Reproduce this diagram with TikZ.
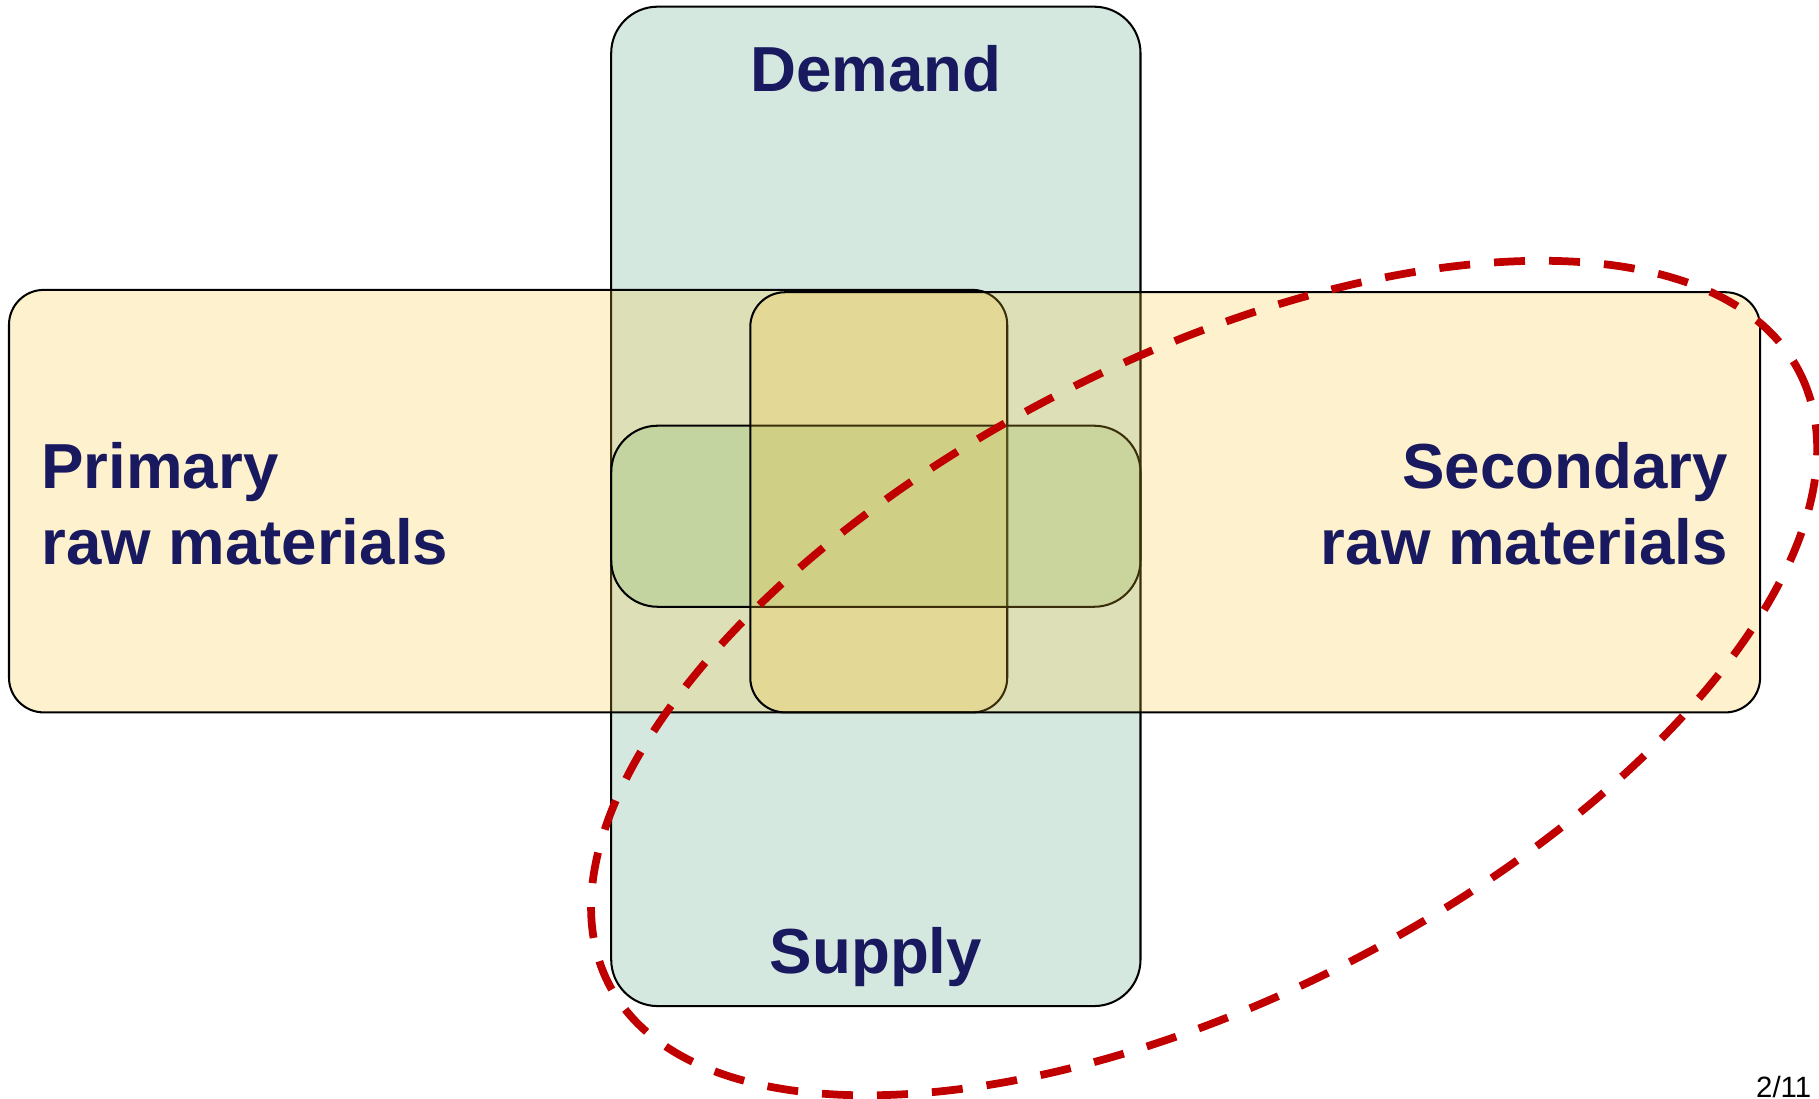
\documentclass[tikz,border=0pt]{standalone}
\usepackage{fontspec}
\setmainfont{Liberation Sans}
\definecolor{tealfill}{RGB}{213,232,224}
\definecolor{yelfill}{RGB}{247,196,49}
\definecolor{grnfill}{RGB}{120,180,100}
\definecolor{navy}{RGB}{25,25,95}
\definecolor{redline}{RGB}{192,0,0}
\tikzset{
  boxbase/.style={draw=black, line width=0.5pt, inner sep=0pt, outer sep=0pt},
  tealbox/.style={boxbase, fill=tealfill, rounded corners=0.4cm},
  yelbox/.style={boxbase, fill=yelfill, fill opacity=0.238, draw opacity=1, rounded corners=0.3cm},
  grnbox/.style={boxbase, fill=grnfill, fill opacity=0.25, rounded corners=0.4cm},
  lbl/.style={text=navy, font=\fontsize{15.6}{18.8}\selectfont\bfseries, inner sep=0pt},
  redell/.style={draw=redline, line width=1.9pt, dash pattern=on 0.267cm off 0.207cm},
}
\begin{document}
\begin{tikzpicture}[x=0.01cm, y=-0.01cm]
\useasboundingbox (0,0) rectangle (1568,947.3);
\node[tealbox, minimum width=4.56cm, minimum height=8.61cm] (ds) at (755,436.5) {};
\node[yelbox, minimum width=8.60cm, minimum height=3.64cm] (prim) at (438,432) {};
\node[grnbox, minimum width=4.56cm, minimum height=1.56cm] (mid) at (755,445) {};
\node[yelbox, minimum width=8.70cm, minimum height=3.62cm] (sec) at (1082,433) {};
\node[lbl, anchor=base] (demand) at (755,79) {Demand};
\node[lbl, anchor=base] (supply) at (755,839) {Supply};
\node[lbl, anchor=base west, align=left] (primtxt) at (35,487) {Primary\\raw materials};
\node[lbl, anchor=base east, align=right] (sectxt) at (1490,487) {Secondary\\raw materials};
\node[font=\fontsize{7.2}{8}\selectfont, anchor=base east, inner sep=0pt] (page) at (1562,946) {2/11};
\coordinate (ellc) at (1038,584.5);
\draw[redell, rotate around={27.2:(ellc)}] (ellc) ellipse [x radius=577, y radius=275];
\end{tikzpicture}
\end{document}
